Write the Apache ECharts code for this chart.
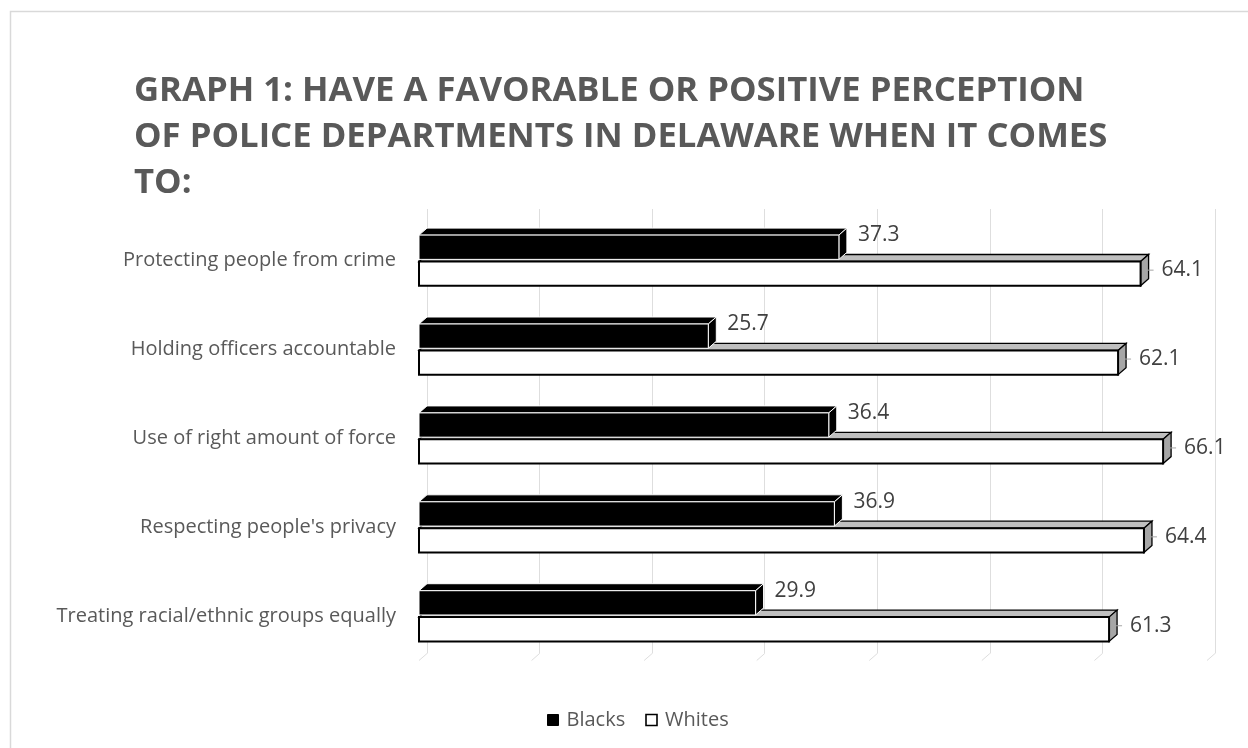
<!DOCTYPE html>
<html>
<head>
<meta charset="utf-8">
<script src="https://cdn.jsdelivr.net/npm/echarts@6/dist/echarts.min.js"></script>
<style>
html,body{margin:0;padding:0;background:#fff;}
#chart{width:1248px;height:748px;}
</style>
</head>
<body>
<div id="chart"></div>
<script>
var categories = [
  'Protecting people from crime',
  'Holding officers accountable',
  'Use of right amount of force',
  "Respecting people's privacy",
  'Treating racial/ethnic groups equally'
];
var blacks = [37.3, 25.7, 36.4, 36.9, 29.9];
var whites = [64.1, 62.1, 66.1, 64.4, 61.3];
var xTicks = [0, 10, 20, 30, 40, 50, 60, 70];
var titleText = 'GRAPH 1: HAVE A FAVORABLE OR POSITIVE PERCEPTION\nOF POLICE DEPARTMENTS IN DELAWARE WHEN IT COMES\nTO:';

var DX = 8, DY = 7;
var FONT = '"Open Sans", "Noto Sans", sans-serif';

function makeRender(kind) {
  return function (params, api) {
    var v = api.value(0), ci = api.value(1);
    var p0 = api.coord([0, ci]);
    var p1 = api.coord([v, ci]);
    var band = api.size([0, 1])[1];
    var c = p0[1];
    var t, b;
    if (kind === 'b') { t = c - band * 0.285; b = c - band * 0.012; }
    else { t = c + band * 0.012; b = c + band * 0.285; }
    var x0 = p0[0], x1 = p1[0];
    var children = [];
    var black = kind === 'b';
    var topFill = black ? '#000' : '#bfbfbf';
    var sideFill = black ? '#000' : '#a6a6a6';
    var frontFill = black ? '#000' : '#fff';
    var stroke = black ? '#ffffff' : '#000';
    var lw = black ? 1 : 1.3;
    children.push({
      type: 'polygon',
      shape: { points: [[x0, t], [x1, t], [x1 + DX, t - DY], [x0 + DX, t - DY]] },
      style: { fill: topFill, stroke: stroke, lineWidth: lw }
    });
    children.push({
      type: 'polygon',
      shape: { points: [[x1, t], [x1 + DX, t - DY], [x1 + DX, b - DY], [x1, b]] },
      style: { fill: sideFill, stroke: stroke, lineWidth: lw }
    });
    children.push({
      type: 'rect',
      shape: { x: x0, y: t, width: x1 - x0, height: b - t },
      style: { fill: frontFill, stroke: stroke, lineWidth: black ? 1 : 2 }
    });
    if (black) {
      children.push({
        type: 'text',
        style: { text: v.toFixed(1), x: x1 + 19, y: t, fill: '#404040',
          font: '21px ' + FONT, textAlign: 'left', textVerticalAlign: 'middle' }
      });
    } else {
      var ly = (t + b) / 2 - DY / 2;
      children.push({
        type: 'line',
        shape: { x1: x1 + DX - 2, y1: ly, x2: x1 + DX + 5, y2: ly },
        style: { stroke: '#a6a6a6', lineWidth: 1 }
      });
      children.push({
        type: 'text',
        style: { text: v.toFixed(1), x: x1 + 21, y: ly, fill: '#404040',
          font: '21px ' + FONT, textAlign: 'left', textVerticalAlign: 'middle' }
      });
    }
    return { type: 'group', children: children };
  };
}

var chart = echarts.init(document.getElementById('chart'), null, { renderer: 'canvas' });
var option = {
  backgroundColor: '#fff',
  animation: false,
  title: {
    text: titleText,
    left: 129, top: 63,
    textStyle: { fontFamily: FONT, fontWeight: 'bold', fontSize: 34.7, color: '#595959', lineHeight: 46 }
  },
  graphic: [{
    type: 'rect', silent: true, z: -10,
    shape: { x: 10.5, y: 11.5, width: 1400, height: 900 },
    style: { fill: 'none', stroke: '#d9d9d9', lineWidth: 1.5 }
  }],
  legend: {
    data: [
      { name: 'Blacks', itemStyle: { color: '#000', borderColor: '#000', borderWidth: 1 } },
      { name: 'Whites', itemStyle: { color: '#fff', borderColor: '#000', borderWidth: 1.6 } }
    ],
    left: 542, top: 705,
    icon: 'rect', itemWidth: 11, itemHeight: 11, itemGap: 20,
    textStyle: { fontFamily: FONT, fontSize: 20, color: '#595959', padding: [0, 0, 0, 3] }
  },
  grid: [
    { left: 419, top: 216, width: 788, height: 444.5 },
    { left: 427, top: 209, width: 788, height: 444.5 }
  ],
  xAxis: [
    { gridIndex: 0, type: 'value', min: 0, max: 70, interval: 10,
      axisLine: { show: false }, axisTick: { show: false }, axisLabel: { show: false }, splitLine: { show: false } },
    { gridIndex: 1, type: 'value', min: 0, max: 70, interval: 10,
      axisLine: { show: false }, axisTick: { show: false }, axisLabel: { show: false },
      splitLine: { show: true, lineStyle: { color: '#dedede', width: 1 } } }
  ],
  yAxis: [
    { gridIndex: 0, type: 'category', data: categories, inverse: true,
      axisLine: { show: false }, axisTick: { show: false },
      axisLabel: { margin: 23, fontFamily: FONT, fontSize: 20, color: '#595959' } },
    { gridIndex: 1, type: 'value', min: 0, max: 1, show: false }
  ],
  series: [
    {
      name: 'floor', type: 'custom', xAxisIndex: 1, yAxisIndex: 1, silent: true, z: 1,
      data: xTicks.map(function (v) { return [v, 0]; }),
      renderItem: function (params, api) {
        var p = api.coord([api.value(0), 0]);
        return { type: 'line', shape: { x1: p[0], y1: p[1], x2: p[0] - DX, y2: p[1] + DY },
          style: { stroke: '#dedede', lineWidth: 1 } };
      }
    },
    {
      name: 'Whites', type: 'custom', xAxisIndex: 0, yAxisIndex: 0, z: 2,
      itemStyle: { color: '#fff', borderColor: '#000', borderWidth: 1.5 },
      data: whites.map(function (v, i) { return [v, i]; }),
      encode: { x: 0, y: 1 },
      renderItem: makeRender('w')
    },
    {
      name: 'Blacks', type: 'custom', xAxisIndex: 0, yAxisIndex: 0, z: 3,
      itemStyle: { color: '#000' },
      data: blacks.map(function (v, i) { return [v, i]; }),
      encode: { x: 0, y: 1 },
      renderItem: makeRender('b')
    }
  ]
};
chart.setOption(option);
</script>
</body>
</html>
